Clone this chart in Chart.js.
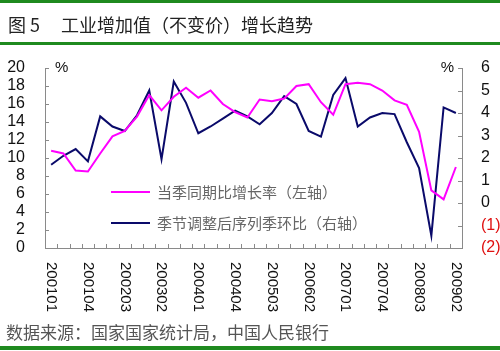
<!DOCTYPE html>
<html>
<head>
<meta charset="utf-8">
<script src="https://cdn.jsdelivr.net/npm/chart.js@4"></script>
<style>
  body { margin: 0; background: #fff; }
  canvas { display: block; }
</style>
</head>
<body>
<canvas class="chart" width="500" height="351"></canvas>
<script>
const quarters = [
  '200101', '200102', '200103', '200104',
  '200201', '200202', '200203', '200204',
  '200301', '200302', '200303', '200304',
  '200401', '200402', '200403', '200404',
  '200501', '200502', '200503', '200504',
  '200601', '200602', '200603', '200604',
  '200701', '200702', '200703', '200704',
  '200801', '200802', '200803', '200804',
  '200901', '200902'
];
// 当季同期比增长率 (left axis, %)
const yoyGrowth = [
  10.8, 10.5, 8.6, 8.5, 10.5, 12.4, 13.0, 14.6,
  17.0, 15.3, 16.8, 17.8, 16.7, 17.5, 16.0, 15.1,
  14.5, 16.5, 16.3, 16.6, 18.0, 18.2, 16.2, 14.8,
  18.2, 18.35, 18.2, 17.5, 16.4, 15.9, 12.9, 6.4,
  5.4, 9.0
];
// 季节调整后序列季环比 (right axis, %)
const qoqAdjusted = [
  1.7, 2.1, 2.4, 1.85, 3.85, 3.4, 3.2, 3.9,
  5.0, 1.95, 5.4, 4.45, 3.1, 3.4, 3.75, 4.1,
  3.85, 3.5, 4.0, 4.75, 4.4, 3.2, 2.95, 4.8,
  5.55, 3.4, 3.8, 4.0, 3.95, 2.7, 1.55, -1.45,
  4.25, 4.0
];
const leftRange = [0, 20];
const rightRange = [-2, 6];
const shownLabelEvery = 3;

const seriesNames = ['当季同期比增长率（左轴）', '季节调整后序列季环比（右轴）'];
const axisGray = '#8a8a8a';
const tickFont = { family: "'Liberation Sans', Arial, sans-serif", size: 16 };
const cjk = "'Noto Sans CJK SC', sans-serif";

const decor = {
  id: 'decor',
  beforeDraw(chart) {
    const ctx = chart.ctx;
    ctx.save();
    ctx.fillStyle = '#fff';
    ctx.fillRect(0, 0, chart.width, chart.height);
    // green rules
    ctx.fillStyle = '#1f8a1f';
    ctx.fillRect(0, 0, chart.width, 3);
    ctx.fillRect(0, 42, chart.width, 3);
    ctx.fillRect(0, 346, chart.width, 4);
    // title
    ctx.fillStyle = '#222';
    ctx.font = '18px ' + cjk;
    ctx.textBaseline = 'middle';
    ctx.fillText('图 5', 8, 25);
    ctx.fillText('工业增加值（不变价）增长趋势', 61, 25);
    // source
    ctx.fillStyle = '#555';
    ctx.font = '17px ' + cjk;
    ctx.fillText('数据来源：国家国家统计局，中国人民银行', 6, 333);
    ctx.restore();
  },
  afterDraw(chart) {
    const ctx = chart.ctx;
    const x = chart.scales.x, yl = chart.scales.yL, yr = chart.scales.yR;
    const area = chart.chartArea;
    ctx.save();
    // inward tick marks
    ctx.strokeStyle = axisGray;
    ctx.lineWidth = 1;
    ctx.beginPath();
    yl.ticks.forEach(t => {
      const py = Math.round(yl.getPixelForValue(t.value)) + 0.5;
      ctx.moveTo(area.left, py); ctx.lineTo(area.left + 4, py);
    });
    yr.ticks.forEach(t => {
      const py = Math.round(yr.getPixelForValue(t.value)) + 0.5;
      ctx.moveTo(area.right - 4, py); ctx.lineTo(area.right, py);
    });
    for (let i = 0; i < quarters.length - 1; i++) {
      const px = Math.round((x.getPixelForValue(i) + x.getPixelForValue(i + 1)) / 2) + 0.5;
      ctx.moveTo(px, area.bottom); ctx.lineTo(px, area.bottom - 4);
    }
    ctx.stroke();
    // vertical category labels, reading top to bottom
    ctx.fillStyle = '#111';
    ctx.font = "15px 'Liberation Sans', Arial, sans-serif";
    ctx.textAlign = 'left';
    ctx.textBaseline = 'middle';
    quarters.forEach((q, i) => {
      if (i % shownLabelEvery !== 0) return;
      ctx.save();
      ctx.translate(x.getPixelForValue(i), area.bottom + 14);
      ctx.rotate(Math.PI / 2);
      ctx.fillText(q, 0, 0);
      ctx.restore();
    });
    // % units
    ctx.font = "15px 'Liberation Sans', Arial, sans-serif";
    ctx.fillText('%', area.left + 10, area.top);
    ctx.textAlign = 'right';
    ctx.fillText('%', area.right - 8, area.top);
    // legend inside the plot
    ctx.textAlign = 'left';
    ctx.font = '15px ' + cjk;
    chart.data.datasets.forEach((ds, k) => {
      const ly = 192 + k * 31;
      ctx.strokeStyle = ds.borderColor;
      ctx.lineWidth = 2;
      ctx.beginPath();
      ctx.moveTo(111, ly); ctx.lineTo(150, ly);
      ctx.stroke();
      ctx.fillStyle = '#666';
      ctx.fillText(ds.label, 157, ly);
    });
    ctx.restore();
  }
};

const myChart = new Chart(document.querySelector('.chart'), {
  type: 'line',
  data: {
    labels: quarters,
    datasets: [{
      label: seriesNames[0],
      data: yoyGrowth,
      yAxisID: 'yL',
      borderColor: '#ff00ff',
      borderWidth: 2
    }, {
      label: seriesNames[1],
      data: qoqAdjusted,
      yAxisID: 'yR',
      borderColor: '#0a0a6a',
      borderWidth: 2
    }]
  },
  options: {
    responsive: false,
    animation: false,
    devicePixelRatio: 1,
    layout: { padding: { top: 68, bottom: 103, left: 0, right: 0 } },
    elements: {
      point: { radius: 0 },
      line: { tension: 0 }
    },
    plugins: {
      legend: { display: false },
      tooltip: { enabled: false }
    },
    scales: {
      x: {
        offset: true,
        grid: { display: false },
        border: { color: axisGray },
        ticks: { display: false },
        afterFit: s => { s.height = 0; }
      },
      yL: {
        position: 'left',
        min: leftRange[0],
        max: leftRange[1],
        grid: { display: false },
        border: { color: axisGray },
        ticks: { stepSize: 2, autoSkip: false, padding: 12, color: '#111', font: tickFont },
        afterFit: s => { s.width = 45; }
      },
      yR: {
        position: 'right',
        min: rightRange[0],
        max: rightRange[1],
        grid: { display: false },
        border: { color: axisGray },
        ticks: {
          stepSize: 1,
          autoSkip: false,
          padding: 11,
          font: tickFont,
          color: c => (c.tick && c.tick.value < 0 ? '#e01010' : '#111'),
          callback: v => (v < 0 ? '(' + (-v) + ')' : v)
        },
        afterFit: s => { s.width = 38; }
      }
    }
  },
  plugins: [decor]
});
</script>
</body>
</html>
